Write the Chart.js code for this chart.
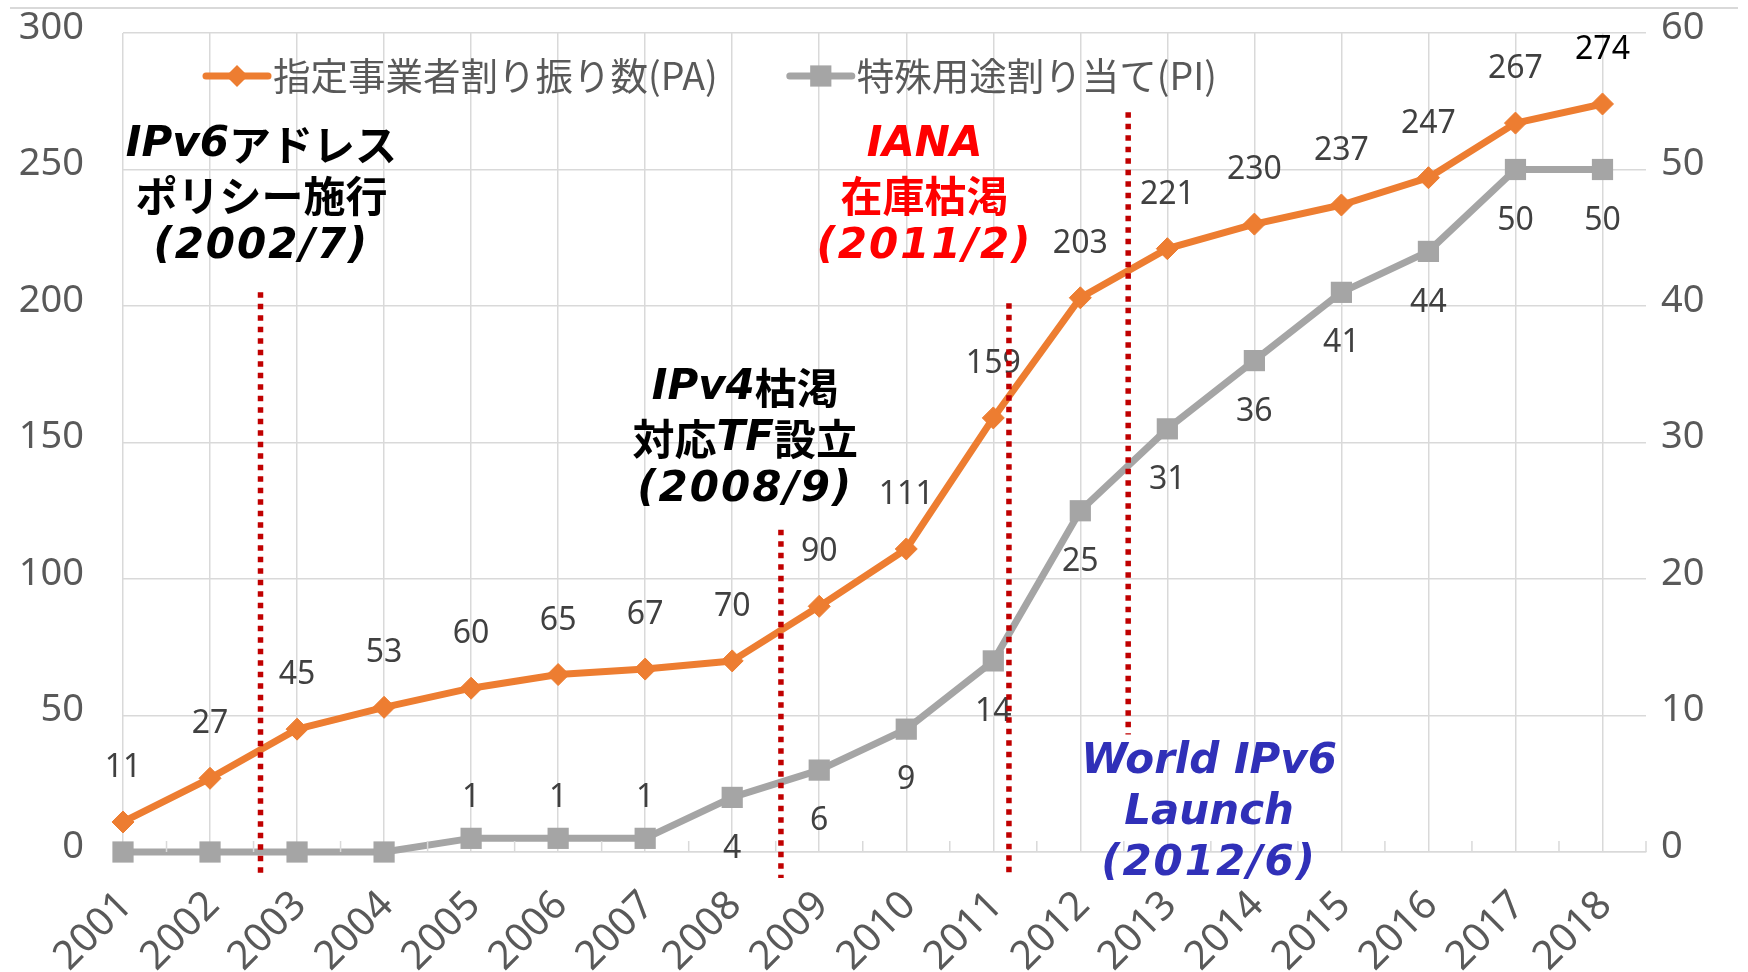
<!DOCTYPE html>
<html><head><meta charset="utf-8">
<script src="https://cdn.jsdelivr.net/npm/chart.js@4.4.0/dist/chart.umd.min.js"></script>
<style>html,body{margin:0;padding:0;background:#fff;}canvas{display:block;}</style>
</head><body>
<canvas id="c" width="1748" height="972"></canvas>
<script>
const years = ['2001','2002','2003','2004','2005','2006','2007','2008','2009','2010','2011','2012','2013','2014','2015','2016','2017','2018'];
const paValues = [11,27,45,53,60,65,67,70,90,111,159,203,221,230,237,247,267,274];
const piValues = [0,0,0,0,1,1,1,4,6,9,14,25,31,36,41,44,50,50];
const seriesNames = ['指定事業者割り振り数(PA)', '特殊用途割り当て(PI)'];
const leftAxis = {min: 0, max: 300, step: 50};
const rightAxis = {min: 0, max: 60, step: 10};

// event markers (x in category-index units, y in left-axis units)
const eventLines = [
  {x: 1.58, yTop: 205, yBottom: -9.5},
  {x: 7.56, yTop: 118, yBottom: -9.5},
  {x: 10.18, yTop: 201, yBottom: -9.5},
  {x: 11.55, yTop: 271, yBottom: 43}
];
const eventNotes = [
  {lines: ['IPv6アドレス', 'ポリシー施行', '(2002/7)'], x: 1.59, y: 259, color: '#000000'},
  {lines: ['IPv4枯渇', '対応TF設立', '(2008/9)'], x: 7.15, y: 170, color: '#000000'},
  {lines: ['IANA', '在庫枯渇', '(2011/2)'], x: 9.21, y: 259, color: '#FF0000'},
  {lines: ['World IPv6', 'Launch', '(2012/6)'], x: 12.48, y: 33, color: '#3030B8'}
];

const FONT_NUM = "'Noto Sans', 'DejaVu Sans', sans-serif";
const FONT_JP = "'Noto Sans CJK JP', 'Noto Sans', sans-serif";
const GRID = '#D9D9D9';
const TXT = '#595959';

function isCJK(ch) { return /[\u3000-\u30ff\u3400-\u9fff\uff00-\uffef]/.test(ch); }
function splitRuns(str) {
  const out = [];
  for (const ch of str) {
    const c = isCJK(ch);
    if (out.length && out[out.length - 1].cjk === c) out[out.length - 1].t += ch;
    else out.push({t: ch, cjk: c});
  }
  return out;
}
function drawMixed(ctx, str, cx, cy, color) {
  const rs = splitRuns(str);
  const spaced = str.charAt(0) === '(';
  const fonts = rs.map(r => r.cjk ? `bold 42px ${FONT_JP}` : `italic bold 42px 'DejaVu Sans', sans-serif`);
  ctx.letterSpacing = spaced ? '2px' : '0px';
  const widths = rs.map((r, k) => { ctx.font = fonts[k]; return ctx.measureText(r.t).width; });
  let x = cx - widths.reduce((a, b) => a + b, 0) / 2;
  ctx.fillStyle = color; ctx.textAlign = 'left'; ctx.textBaseline = 'middle';
  rs.forEach((r, k) => { ctx.font = fonts[k]; ctx.fillText(r.t, x, cy); x += widths[k]; });
  ctx.letterSpacing = '0px';
}

const overlay = {
  id: 'overlay',
  beforeDraw(chart) {
    const ctx = chart.ctx;
    ctx.save();
    ctx.fillStyle = '#fff'; ctx.fillRect(0, 0, chart.width, chart.height);
    ctx.strokeStyle = GRID; ctx.lineWidth = 2;
    ctx.beginPath(); ctx.moveTo(10, 8); ctx.lineTo(1738, 8); ctx.stroke();
    ctx.restore();
  },
  afterDatasetsDraw(chart) {
    const ctx = chart.ctx;
    const xs = chart.scales.x, ys = chart.scales.y;
    const area = chart.chartArea;
    ctx.save();
    // minor tick marks between categories
    ctx.strokeStyle = GRID; ctx.lineWidth = 1.5;
    for (let i = 0; i < years.length; i++) {
      const px = xs.getPixelForValue(i + 0.5);
      ctx.beginPath(); ctx.moveTo(px, area.bottom); ctx.lineTo(px, area.bottom - 11); ctx.stroke();
    }
    // data labels
    ctx.font = `32px ${FONT_NUM}`; ctx.textAlign = 'center'; ctx.textBaseline = 'middle';
    chart.data.datasets.forEach((ds, di) => {
      const meta = chart.getDatasetMeta(di);
      meta.data.forEach((pt, i) => {
        const v = ds.data[i].y;
        if (v === 0) return;
        const above = di === 0 || v <= 1;
        const y = above ? pt.y - (di === 0 ? 54 : 40) : pt.y + 51;
        ctx.fillStyle = (di === 0 && i === ds.data.length - 1) ? '#000000' : '#404040';
        ctx.fillText(String(v), pt.x, y);
      });
    });
    // dotted event lines
    ctx.strokeStyle = '#C00000'; ctx.lineWidth = 5.5; ctx.setLineDash([5.5, 6]);
    eventLines.forEach(e => {
      const px = xs.getPixelForValue(e.x);
      ctx.beginPath(); ctx.moveTo(px, ys.getPixelForValue(e.yTop)); ctx.lineTo(px, ys.getPixelForValue(e.yBottom)); ctx.stroke();
    });
    ctx.setLineDash([]);
    // event notes
    eventNotes.forEach(n => {
      const cx = xs.getPixelForValue(n.x);
      const cy = ys.getPixelForValue(n.y);
      n.lines.forEach((ln, k) => drawMixed(ctx, ln, cx, cy + k * 51, n.color));
    });
    // legend
    let lx = 206; const ly = 76;
    chart.data.datasets.forEach((ds, di) => {
      ctx.strokeStyle = ds.borderColor; ctx.lineWidth = 7; ctx.lineCap = 'round';
      ctx.beginPath(); ctx.moveTo(lx, ly); ctx.lineTo(lx + 62, ly); ctx.stroke();
      ctx.fillStyle = ds.backgroundColor;
      Chart.helpers.drawPoint(ctx, {pointStyle: ds.pointStyle, radius: ds.pointRadius, rotation: 0, borderWidth: 0}, lx + 31, ly);
      ctx.font = `37.5px ${FONT_JP}`; ctx.fillStyle = TXT; ctx.textAlign = 'left'; ctx.textBaseline = 'middle';
      ctx.fillText(ds.label, lx + 67, ly);
      lx += 67 + ctx.measureText(ds.label).width + 72;
    });
    ctx.restore();
  }
};

function zeroPad(s) { s.paddingTop = 0; s.paddingBottom = 0; s.paddingLeft = 0; s.paddingRight = 0; }

new Chart(document.getElementById('c'), {
  type: 'line',
  data: {
    datasets: [
      {
        label: seriesNames[0],
        data: years.map((_, i) => ({x: i, y: paValues[i]})),
        yAxisID: 'y', clip: false,
        borderColor: '#ED7D31', backgroundColor: '#ED7D31',
        borderWidth: 7, borderJoinStyle: 'round', borderCapStyle: 'round',
        pointStyle: 'rectRot', pointRadius: 11, pointBorderWidth: 1, pointBorderColor: '#ED7D31',
        tension: 0
      },
      {
        label: seriesNames[1],
        data: years.map((_, i) => ({x: i, y: piValues[i]})),
        yAxisID: 'y2', clip: false,
        borderColor: '#A5A5A5', backgroundColor: '#A5A5A5',
        borderWidth: 7, borderJoinStyle: 'round', borderCapStyle: 'round',
        pointStyle: 'rect', pointRadius: 15, pointBorderWidth: 0,
        tension: 0
      }
    ]
  },
  options: {
    responsive: false, animation: false, devicePixelRatio: 1,
    layout: {padding: {top: 33, left: 0, right: 0, bottom: 0}, autoPadding: false},
    plugins: {legend: {display: false}, tooltip: {enabled: false}},
    scales: {
      x: {
        type: 'linear', min: 0, max: years.length - 0.5,
        afterBuildTicks: s => { s.ticks = years.map((_, i) => ({value: i})); },
        ticks: {
          callback: v => years[v] ?? '', autoSkip: false, minRotation: 45, maxRotation: 45,
          font: {size: 40, family: FONT_NUM}, color: TXT, padding: 30, labelOffset: 3
        },
        grid: {color: GRID, lineWidth: 1.5, drawTicks: false},
        border: {color: GRID, width: 1.5},
        afterFit: s => { s.height = 120; zeroPad(s); }
      },
      y: {
        position: 'left', min: leftAxis.min, max: leftAxis.max,
        ticks: {stepSize: leftAxis.step, font: {size: 38, family: FONT_NUM}, color: TXT, padding: 39, labelOffset: -5},
        grid: {color: GRID, lineWidth: 1.5, drawTicks: false},
        border: {display: false},
        afterFit: s => { s.width = 123; zeroPad(s); }
      },
      y2: {
        position: 'right', min: rightAxis.min, max: rightAxis.max,
        ticks: {stepSize: rightAxis.step, font: {size: 38, family: FONT_NUM}, color: TXT, padding: 15, labelOffset: -5},
        grid: {drawOnChartArea: false, drawTicks: false},
        border: {display: false},
        afterFit: s => { s.width = 102; zeroPad(s); }
      }
    }
  },
  plugins: [overlay]
});
</script>
</body></html>
